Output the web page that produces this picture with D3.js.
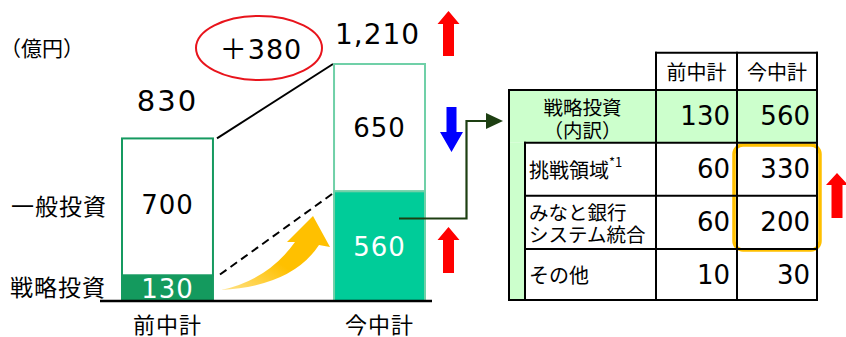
<!DOCTYPE html>
<html>
<head>
<meta charset="utf-8">
<script src="https://cdn.jsdelivr.net/npm/d3@7.9.0/dist/d3.min.js"></script>
<style>
  html, body { margin: 0; padding: 0; background: #fff; }
  svg { display: block; }
</style>
</head>
<body>
<div id="chart"></div>
<script>
// data
const plans = ['前中計', '今中計'];
const strategic = [130, 560];
const general = [700, 650];
const totals = [830, 1210];
const diffLabel = '＋380';
const unitLabel = '（億円）';
const seriesLabels = ['一般投資', '戦略投資'];

const tableCols = ['前中計', '今中計'];
const tableHead = ['戦略投資', '（内訳）'];
const tableHeadValues = [130, 560];
const tableRows = [['挑戦領域'], ['みなと銀行', 'システム統合'], ['その他']];
const prevValues = [60, 60, 10];
const currValues = [330, 200, 30];

const width = 846, height = 337;
const jp = "'Noto Sans CJK JP', sans-serif";
const num = "'DejaVu Sans', 'Noto Sans CJK JP', sans-serif";

const svg = d3.select('#chart').append('svg')
  .attr('width', width).attr('height', height);

const x = d3.scaleBand().domain(plans).range([122, 425]).paddingInner(0.571).paddingOuter(0);
const y = d3.scaleLinear().domain([0, 1210]).range([301, 64]);

const barStroke = ['#159a60', '#70d0a8'];
const stratFill = ['#149a5e', '#00cc99'];

// connector lines between bars
svg.append('line')
  .attr('x1', x(plans[0]) + x.bandwidth() + 4).attr('y1', y(totals[0]))
  .attr('x2', x(plans[1]) - 1).attr('y2', y(totals[1]))
  .attr('stroke', '#000').attr('stroke-width', 2);
svg.append('line')
  .attr('x1', x(plans[0]) + x.bandwidth() + 7).attr('y1', y(strategic[0]) - 1)
  .attr('x2', x(plans[1]) - 1).attr('y2', y(strategic[1]) + 2)
  .attr('stroke', '#000').attr('stroke-width', 2).attr('stroke-dasharray', '8,5');

// yellow curved arrow
const defs = svg.append('defs');
const grad = defs.append('linearGradient').attr('id', 'yel')
  .attr('x1', '0%').attr('y1', '100%').attr('x2', '100%').attr('y2', '0%');
grad.append('stop').attr('offset', '0%').attr('stop-color', '#ffe38a');
grad.append('stop').attr('offset', '45%').attr('stop-color', '#ffc000');
grad.append('stop').attr('offset', '100%').attr('stop-color', '#ffc000');
svg.append('path')
  .attr('d', 'M221,290 Q268,280 295,242 L287,242 L313,216 L330,247 L319,245 Q292,286 221,290 Z')
  .attr('fill', 'url(#yel)');

// bars
plans.forEach((p, i) => {
  const bx = x(p), bw = x.bandwidth();
  svg.append('rect')
    .attr('x', bx).attr('y', y(totals[i]))
    .attr('width', bw).attr('height', y(strategic[i]) - y(totals[i]))
    .attr('fill', '#fff').attr('stroke', barStroke[i]).attr('stroke-width', 2);
  svg.append('rect')
    .attr('x', bx).attr('y', y(strategic[i]))
    .attr('width', bw).attr('height', y(0) - y(strategic[i]))
    .attr('fill', stratFill[i]).attr('stroke', barStroke[i]).attr('stroke-width', 2);
  const cx = bx + bw / 2;
  svg.append('text').attr('x', cx).attr('y', i === 0 ? 205 : (y(totals[i]) + y(strategic[i])) / 2)
    .attr('text-anchor', 'middle').attr('dominant-baseline', 'central')
    .attr('font-family', num).attr('font-size', 26).attr('letter-spacing', 1)
    .attr('fill', '#000').text(general[i]);
  svg.append('text').attr('x', cx).attr('y', i === 0 ? 289 : 247)
    .attr('text-anchor', 'middle').attr('dominant-baseline', 'central')
    .attr('font-family', num).attr('font-size', 26).attr('letter-spacing', 1)
    .attr('fill', '#fff').text(strategic[i]);
  svg.append('text').attr('x', cx).attr('y', 323)
    .attr('text-anchor', 'middle').attr('dominant-baseline', 'central')
    .attr('font-family', jp).attr('font-size', 22).attr('letter-spacing', 1)
    .attr('fill', '#000').text(p);
});

// total labels
svg.append('text').attr('x', x(plans[0]) + x.bandwidth() / 2).attr('y', 101)
  .attr('text-anchor', 'middle').attr('dominant-baseline', 'central')
  .attr('font-family', num).attr('font-size', 29).attr('letter-spacing', 2).text(totals[0]);
svg.append('text').attr('x', x(plans[1]) + x.bandwidth() / 2 - 2).attr('y', 34)
  .attr('text-anchor', 'middle').attr('dominant-baseline', 'central')
  .attr('font-family', num).attr('font-size', 28).attr('letter-spacing', 1)
  .text(d3.format(',')(totals[1]));

// diff ellipse
svg.append('ellipse').attr('cx', 259).attr('cy', 48).attr('rx', 63).attr('ry', 32)
  .attr('fill', 'none').attr('stroke', '#e8141c').attr('stroke-width', 2);
svg.append('text').attr('x', 261).attr('y', 49)
  .attr('text-anchor', 'middle').attr('dominant-baseline', 'central')
  .attr('font-family', num).attr('font-size', 27).attr('letter-spacing', 1).text(diffLabel);

// baseline
svg.append('line').attr('x1', 100).attr('x2', 432).attr('y1', y(0)).attr('y2', y(0))
  .attr('stroke', '#000').attr('stroke-width', 2.5);

// side labels
svg.append('text').attr('x', 0).attr('y', 47).attr('dominant-baseline', 'central')
  .attr('font-family', jp).attr('font-size', 21).text(unitLabel);
svg.append('text').attr('x', 11).attr('y', 205).attr('dominant-baseline', 'central')
  .attr('font-family', jp).attr('font-size', 23).attr('letter-spacing', 1).text(seriesLabels[0]);
svg.append('text').attr('x', 10).attr('y', 286).attr('dominant-baseline', 'central')
  .attr('font-family', jp).attr('font-size', 23).attr('letter-spacing', 1).text(seriesLabels[1]);

// up / down arrows
function blockArrow(cx, top, bottom, up, color, headW = 22, shaftW = 11, headH = 13) {
  const hw = headW / 2, sw = shaftW / 2;
  let pts;
  if (up) {
    pts = [[cx, top], [cx + hw, top + headH], [cx + sw, top + headH], [cx + sw, bottom],
      [cx - sw, bottom], [cx - sw, top + headH], [cx - hw, top + headH]];
  } else {
    pts = [[cx, bottom], [cx + hw, bottom - headH], [cx + sw, bottom - headH], [cx + sw, top],
      [cx - sw, top], [cx - sw, bottom - headH], [cx - hw, bottom - headH]];
  }
  svg.append('polygon').attr('points', pts.map(d => d.join(',')).join(' ')).attr('fill', color);
}
blockArrow(448.5, 11, 56, true, '#ff0000');
blockArrow(451.5, 107, 152, false, '#0000ff', 23, 10, 20);
blockArrow(448.5, 227, 273, true, '#ff0000');
blockArrow(837, 173, 218, true, '#ff0000', 22, 11, 12);

// connector to table
svg.append('path').attr('d', 'M399,218.5 H466.5 V121 H488')
  .attr('fill', 'none').attr('stroke', '#1d3f12').attr('stroke-width', 2.2);
svg.append('polygon').attr('points', '486,113 503,121 486,129').attr('fill', '#1d3f12');

// table
const colX = [509, 525, 656, 737, 817];
const rowY = [52.7, 90, 142.7, 195.7, 249, 300];
const t = svg.append('g');
t.append('rect').attr('x', colX[0]).attr('y', rowY[1]).attr('width', colX[4] - colX[0])
  .attr('height', rowY[2] - rowY[1]).attr('fill', '#ccffcc');
t.append('rect').attr('x', colX[0]).attr('y', rowY[2]).attr('width', colX[1] - colX[0])
  .attr('height', rowY[5] - rowY[2]).attr('fill', '#ccffcc');
t.append('rect').attr('x', 734).attr('y', 145).attr('width', 86).attr('height', 105)
  .attr('rx', 9).attr('fill', 'none').attr('stroke', '#ffc000').attr('stroke-width', 3.5);

const seg = (x1, y1, x2, y2) => t.append('line')
  .attr('x1', x1).attr('y1', y1).attr('x2', x2).attr('y2', y2)
  .attr('stroke', '#000').attr('stroke-width', 2).attr('stroke-linecap', 'square');
seg(colX[2], rowY[0], colX[4], rowY[0]);
seg(colX[0], rowY[1], colX[4], rowY[1]);
[2, 3, 4].forEach(r => seg(colX[1], rowY[r], colX[4], rowY[r]));
seg(colX[0], rowY[5], colX[4], rowY[5]);
seg(colX[0], rowY[1], colX[0], rowY[5]);
seg(colX[1], rowY[2], colX[1], rowY[5]);
[2, 3, 4].forEach(c => seg(colX[c], rowY[0], colX[c], rowY[5]));

tableCols.forEach((c, i) => {
  t.append('text').attr('x', (colX[2 + i] + colX[3 + i]) / 2).attr('y', (rowY[0] + rowY[1]) / 2)
    .attr('text-anchor', 'middle').attr('dominant-baseline', 'central')
    .attr('font-family', jp).attr('font-size', 20).text(c);
});
tableHead.forEach((s, i) => {
  t.append('text').attr('x', (colX[0] + colX[2]) / 2).attr('y', 106 + i * 23)
    .attr('text-anchor', 'middle').attr('dominant-baseline', 'central')
    .attr('font-family', jp).attr('font-size', 19.5).text(s);
});
const numCell = (v, col, cy) => t.append('text').attr('x', colX[col + 1] - 7).attr('y', cy)
  .attr('text-anchor', 'end').attr('dominant-baseline', 'central')
  .attr('font-family', num).attr('font-size', 26).text(v);
tableHeadValues.forEach((v, i) => numCell(v, 2 + i, (rowY[1] + rowY[2]) / 2));

tableRows.forEach((lines, r) => {
  const cy = (rowY[2 + r] + rowY[3 + r]) / 2;
  lines.forEach((s, k) => {
    const txt = t.append('text').attr('x', 529)
      .attr('y', cy + (k - (lines.length - 1) / 2) * 21.5)
      .attr('dominant-baseline', 'central')
      .attr('font-family', jp).attr('font-size', lines.length > 1 ? 19.5 : 20).text(s);
    if (r === 0) txt.append('tspan').attr('font-size', 13).attr('dy', -8).text('*1');
  });
  numCell(prevValues[r], 2, cy);
  numCell(currValues[r], 3, cy);
});
</script>
</body>
</html>
